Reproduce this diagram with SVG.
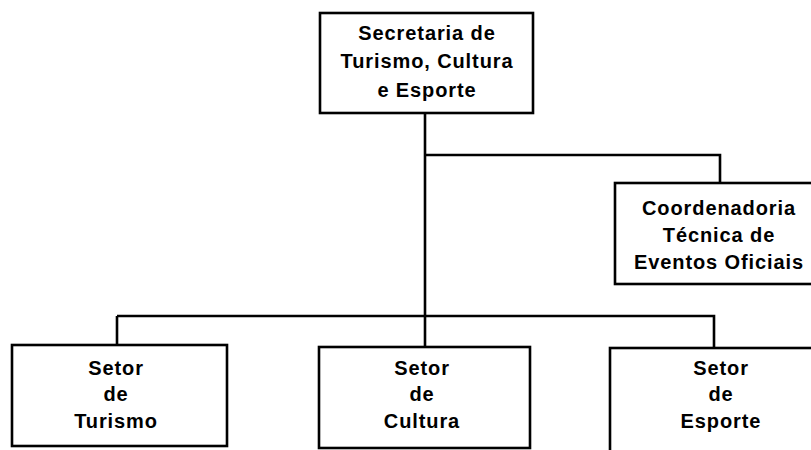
<svg xmlns="http://www.w3.org/2000/svg" width="811" height="450" viewBox="0 0 811 450">
<style>
.box{fill:#fff;stroke:#000;stroke-width:2.6}
.conn{fill:none;stroke:#000;stroke-width:2.6}
text{font-family:"Liberation Sans",Arial,sans-serif;font-weight:bold;font-size:20px;letter-spacing:0.9px;text-anchor:middle;fill:#000}
</style>
<rect width="811" height="450" fill="#fff"/>
<g id="connectors">
<path class="conn" d="M425,113 V346"/>
<path class="conn" d="M425,155 H720 V183"/>
<path class="conn" d="M117,316 H714 V348"/>
<path class="conn" d="M117,316 V345"/>
</g>
<g id="secretaria">
<rect class="box" x="320" y="13" width="213" height="100"/>
<text x="427" y="40">Secretaria de</text>
<text x="427" y="68">Turismo, Cultura</text>
<text x="427" y="97">e Esporte</text>
</g>
<g id="coordenadoria">
<rect class="box" x="615" y="183" width="200" height="101"/>
<text x="719" y="215">Coordenadoria</text>
<text x="719" y="242">Técnica de</text>
<text x="719" y="269">Eventos Oficiais</text>
</g>
<g id="setor-turismo">
<rect class="box" x="12" y="345" width="215" height="101"/>
<text x="116" y="375">Setor</text>
<text x="116" y="401">de</text>
<text x="116" y="428">Turismo</text>
</g>
<g id="setor-cultura">
<rect class="box" x="319" y="347" width="211" height="101"/>
<text x="422" y="375">Setor</text>
<text x="422" y="401">de</text>
<text x="422" y="428">Cultura</text>
</g>
<g id="setor-esporte">
<rect class="box" x="610" y="348" width="210" height="110"/>
<text x="721" y="375">Setor</text>
<text x="721" y="401">de</text>
<text x="721" y="428">Esporte</text>
</g>
</svg>
